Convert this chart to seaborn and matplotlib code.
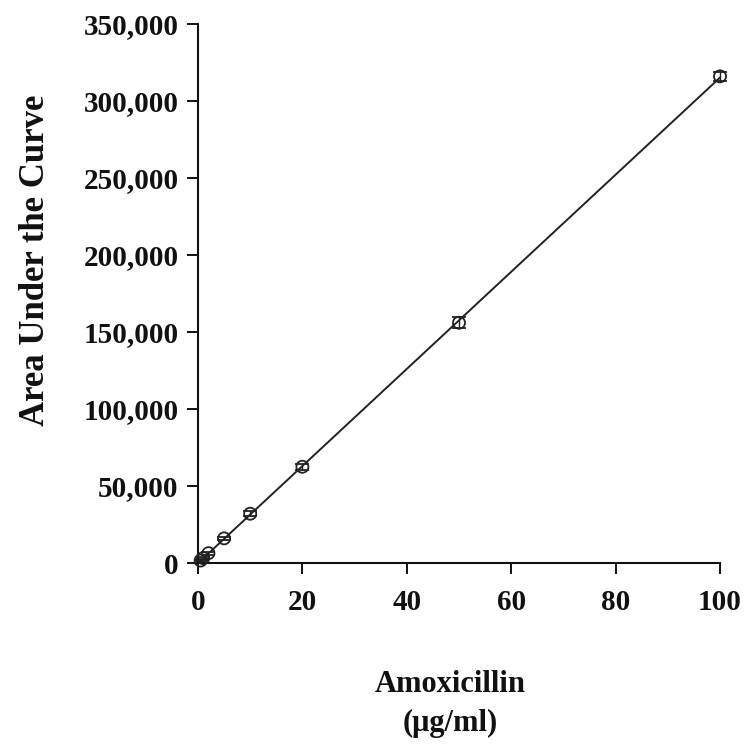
import numpy as np
import pandas as pd
import matplotlib
matplotlib.use("Agg")
import matplotlib.pyplot as plt
import seaborn as sns
from matplotlib.ticker import FuncFormatter

conc = [0.5, 1, 2, 5, 10, 20, 50, 100]
auc = [1600, 3200, 6400, 16000, 32000, 62500, 156000, 316000]
auc_err = [600, 800, 1000, 1200, 1500, 1800, 3500, 3000]
x_ticks = [0, 20, 40, 60, 80, 100]
y_ticks = [0, 50000, 100000, 150000, 200000, 250000, 300000, 350000]

df = pd.DataFrame({"conc": conc, "auc": auc})
slope, intercept = np.polyfit(conc, auc, 1)
fit_x = [0, 100]
fit_df = pd.DataFrame({"conc": fit_x, "auc": [slope * v + intercept for v in fit_x]})

sns.set_style("white")
plt.rcParams["font.family"] = ["Liberation Serif", "DejaVu Serif"]
plt.rcParams["font.weight"] = "bold"

fig = plt.figure(figsize=(7.5, 7.47), dpi=100)
ax = fig.add_axes([0.264, 0.2463, 0.696, 0.7216])

sns.lineplot(data=fit_df, x="conc", y="auc", ax=ax, color="#222222", linewidth=1.4)
eb = ax.errorbar(conc, auc, yerr=auc_err, fmt="none", ecolor="#222222", elinewidth=1.0,
                 capsize=5, capthick=1.3)
for part in eb.lines[1] + eb.lines[2]:
    part.set_clip_on(False)
sns.scatterplot(data=df, x="conc", y="auc", ax=ax, marker="o", s=75,
                facecolor="none", edgecolor="#222222", linewidth=1.3, zorder=5,
                clip_on=False)

ax.set_xlim(0, 100)
ax.set_ylim(0, 350000)
ax.set_xticks(x_ticks)
ax.set_yticks(y_ticks)
ax.yaxis.set_major_formatter(FuncFormatter(lambda v, p: f"{int(v):,}"))
for s in ["top", "right"]:
    ax.spines[s].set_visible(False)
for s in ["left", "bottom"]:
    ax.spines[s].set_color("#111111")
    ax.spines[s].set_linewidth(1.5)
ax.tick_params(axis="both", direction="out", length=8, width=1.4, color="#111111",
               labelsize=21, labelcolor="#111111", bottom=True, left=True)
ax.tick_params(axis="x", pad=11)
ax.tick_params(axis="y", pad=6)
for lab in ax.get_xticklabels() + ax.get_yticklabels():
    lab.set_fontweight("bold")

ax.set_xlabel("Amoxicillin\n(μg/ml)", fontsize=22, fontweight="bold", color="#111111",
              linespacing=1.45)
ax.xaxis.set_label_coords(0.483, -0.198)
ax.set_ylabel("Area Under the Curve", fontsize=25, fontweight="bold", color="#111111")
ax.yaxis.set_label_coords(-0.28, 0.562)

fig.savefig("out.png", dpi=100)
